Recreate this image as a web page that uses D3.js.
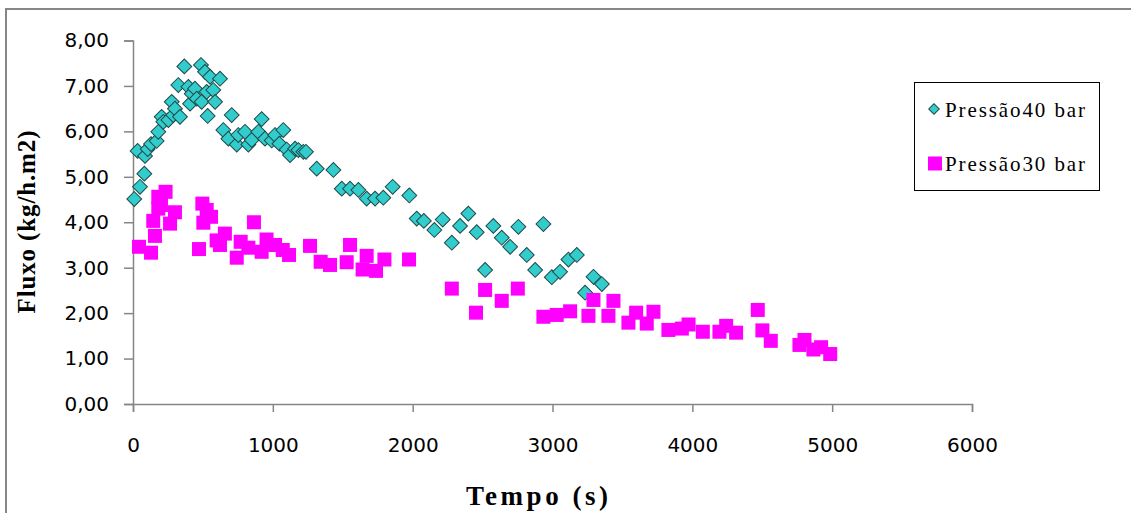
<!DOCTYPE html>
<html>
<head>
<meta charset="utf-8">
<script src="https://cdn.jsdelivr.net/npm/d3@7"></script>
<style>
  body { margin: 0; background: #fff; }
  svg { display: block; }
</style>
</head>
<body>
<div class="chart"></div>
<script>
// Pressão 40 bar (diamonds)
const p40Time = [9, 33, 50, 81, 86, 105, 129, 169, 181, 205, 217, 253, 277, 288, 300, 324, 336, 367,
  396, 408, 420, 443, 456, 486, 491, 515, 527, 534, 551, 574, 587, 622, 646, 682, 706, 742, 753,
  801, 825, 849, 896, 920, 944, 992, 1016, 1047, 1075, 1099, 1123, 1159, 1183, 1218, 1237, 1314,
  1433, 1493, 1552, 1612, 1671, 1731, 1790, 1857, 1976, 2029, 2080, 2155, 2215, 2280, 2339, 2398,
  2458, 2518, 2577, 2637, 2697, 2756, 2816, 2876, 2935, 2995, 3054, 3114, 3174, 3233, 3293, 3353]
const p40Flux = [4.51, 5.57, 4.78, 5.07, 5.46, 5.61, 5.72, 5.79, 5.99, 6.32, 6.21, 6.25, 6.65, 6.36, 6.50, 7.02, 6.32, 7.43,
  6.98, 6.61, 6.83, 6.94, 6.72, 7.46, 6.65, 7.31, 6.87, 6.34, 7.20, 6.91, 6.65, 7.16, 6.03, 5.84, 6.36, 5.71, 5.92,
  5.99, 5.71, 5.81, 5.99, 6.27, 5.84, 5.80, 5.92, 5.73, 6.03, 5.60, 5.48, 5.62, 5.59, 5.55, 5.55, 5.18,
  5.15, 4.74, 4.74, 4.71, 4.52, 4.52, 4.54, 4.78, 4.59, 4.08, 4.03, 3.83, 4.06, 3.55, 3.92, 4.19,
  3.78, 2.95, 3.92, 3.66, 3.46, 3.90, 3.28, 2.95, 3.96, 2.79, 2.91, 3.18, 3.28, 2.45, 2.80, 2.64]

// Pressão 30 bar (squares)
const p30Time = [43, 129, 145, 157, 181, 181, 200, 233, 265, 300, 472, 496, 503, 527, 558, 598, 622, 657,
  742, 770, 825, 865, 920, 955, 1016, 1071, 1116, 1266, 1342, 1409, 1528, 1552, 1642, 1671, 1738, 1798,
  1974, 2280, 2453, 2518, 2637, 2752, 2935, 3030, 3126, 3257, 3293, 3400, 3436, 3543, 3598, 3674, 3722,
  3829, 3925, 3973, 4075, 4194, 4242, 4313, 4468, 4501, 4561, 4766, 4802, 4866, 4921, 4986]
const p30Flux = [3.46, 3.33, 4.03, 3.70, 4.30, 4.56, 4.38, 4.67, 3.97, 4.22, 3.41, 4.41, 3.99, 4.27, 4.12, 3.60, 3.50, 3.75,
  3.22, 3.57, 3.44, 4.00, 3.35, 3.62, 3.50, 3.39, 3.28, 3.48, 3.13, 3.06, 3.12, 3.50, 2.96, 3.26, 2.93, 3.18,
  3.18, 2.54, 2.01, 2.51, 2.27, 2.54, 1.92, 1.96, 2.04, 1.94, 2.29, 1.94, 2.27, 1.79, 2.01, 1.77, 2.03,
  1.63, 1.66, 1.75, 1.59, 1.59, 1.72, 1.57, 2.07, 1.62, 1.39, 1.30, 1.41, 1.20, 1.25, 1.10]

const xTicks = [0, 1000, 2000, 3000, 4000, 5000, 6000]
const yTicks = [0, 1, 2, 3, 4, 5, 6, 7, 8]
const seriesNames = ["Pressão40 bar", "Pressão30 bar"]

const W = 1131, H = 513
const plot = {left: 133, top: 40.5, right: 972, bottom: 404}

const svg = d3.select(".chart")
  .append("svg")
    .attr("width", W)
    .attr("height", H)

// outer chart border
svg.append("rect")
  .attr("x", 6).attr("y", 9)
  .attr("width", W + 20).attr("height", H + 20)
  .attr("fill", "none")
  .attr("stroke", "#868686")
  .attr("stroke-width", 2)

const x = d3.scaleLinear().domain([0, 6000]).range([plot.left, plot.right])
const y = d3.scaleLinear().domain([0, 8]).range([plot.bottom, plot.top])

const fmt = d => d.toFixed(2).replace(".", ",")

// y axis
const yAxis = svg.append("g")
  .attr("transform", `translate(${plot.left},0)`)
  .call(d3.axisLeft(y).tickValues(yTicks).tickFormat(fmt).tickSize(9).tickPadding(15))
// x axis
const xAxis = svg.append("g")
  .attr("transform", `translate(0,${plot.bottom})`)
  .call(d3.axisBottom(x).tickValues(xTicks).tickFormat(d3.format("d")).tickSize(8).tickPadding(26))

for (let ax of [xAxis, yAxis]) {
  ax.select(".domain").attr("stroke", "#868686").attr("stroke-width", 1.5)
  ax.selectAll(".tick line").attr("stroke", "#868686").attr("stroke-width", 1.5)
  ax.selectAll(".tick text")
    .attr("fill", "#000")
    .style("font-family", "DejaVu Sans, sans-serif")
    .style("font-size", "20px")
}

// axis titles
svg.append("text")
  .attr("transform", "translate(35,222) rotate(-90)")
  .attr("text-anchor", "middle")
  .attr("textLength", 183)
  .attr("lengthAdjust", "spacing")
  .style("font-family", "Liberation Serif, serif")
  .style("font-weight", "bold")
  .style("font-size", "25px")
  .text("Fluxo (kg/h.m2)")

svg.append("text")
  .attr("x", 537).attr("y", 505)
  .attr("text-anchor", "middle")
  .attr("textLength", 142)
  .attr("lengthAdjust", "spacing")
  .style("font-family", "Liberation Serif, serif")
  .style("font-weight", "bold")
  .style("font-size", "27px")
  .text("Tempo (s)")

const diamond = d3.symbol(d3.symbolSquare, 110)
const diamondSmall = d3.symbol(d3.symbolSquare, 56)

const p40 = p40Time.map((t, i) => ({t: t, v: p40Flux[i]}))
const p30 = p30Time.map((t, i) => ({t: t, v: p30Flux[i]}))

svg.append("g")
  .selectAll("path")
  .data(p40)
  .enter()
  .append("path")
    .attr("d", diamond)
    .attr("transform", d => `translate(${x(d.t)},${y(d.v)}) rotate(45)`)
    .attr("fill", "#33CCCC")
    .attr("stroke", "#1d4a4a")
    .attr("stroke-width", 1)

svg.append("g")
  .selectAll("rect")
  .data(p30)
  .enter()
  .append("rect")
    .attr("x", d => x(d.t) - 7)
    .attr("y", d => y(d.v) - 7)
    .attr("width", 14)
    .attr("height", 14)
    .attr("fill", "#FF00FF")

// legend
const legend = svg.append("g")
legend.append("rect")
  .attr("x", 914.5).attr("y", 82.5)
  .attr("width", 185).attr("height", 108)
  .attr("fill", "#fff")
  .attr("stroke", "#000")
  .attr("stroke-width", 1)

legend.append("path")
  .attr("d", diamondSmall)
  .attr("transform", "translate(934,109) rotate(45)")
  .attr("fill", "#33CCCC")
  .attr("stroke", "#1d4a4a")
  .attr("stroke-width", 1)

legend.append("rect")
  .attr("x", 928).attr("y", 156.5)
  .attr("width", 14).attr("height", 14)
  .attr("fill", "#FF00FF")

legend.selectAll("text.lg")
  .data(seriesNames)
  .enter()
  .append("text")
    .attr("class", "lg")
    .attr("x", 945)
    .attr("y", (d, i) => i == 0 ? 117 : 171)
    .attr("textLength", 140)
    .attr("lengthAdjust", "spacing")
    .style("font-family", "Liberation Serif, serif")
    .style("font-size", "21px")
    .text(d => d)
</script>
</body>
</html>
